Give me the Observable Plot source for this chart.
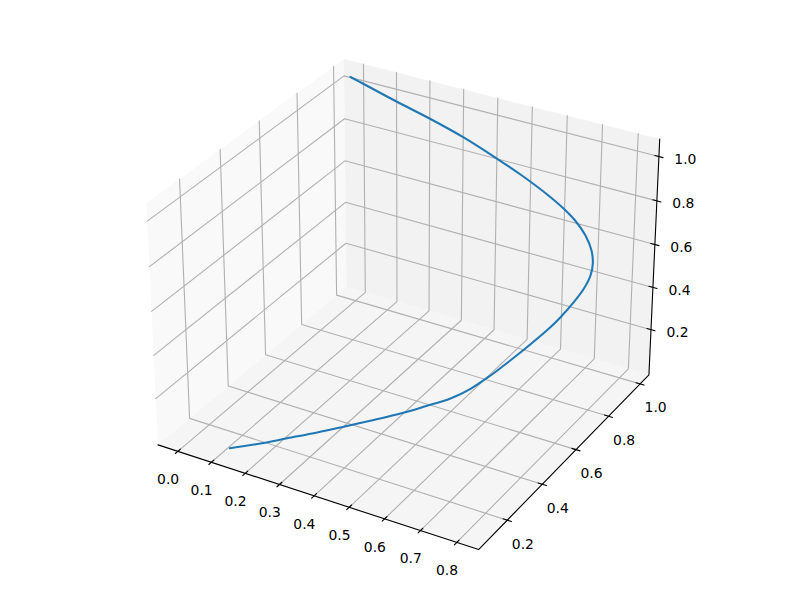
<!DOCTYPE html>
<html><head><meta charset="utf-8">
<script src="https://cdn.jsdelivr.net/npm/d3@7"></script>
<script src="https://cdn.jsdelivr.net/npm/@observablehq/plot@0.6"></script>
<style>html,body{margin:0;background:#fff}</style>
</head><body><div id="c"></div>
<script>
const xTicks=[0,0.1,0.2,0.3,0.4,0.5,0.6,0.7,0.8];
const yTicks=[0.2,0.4,0.6,0.8,1.0];
const zTicks=[0.2,0.4,0.6,0.8,1.0];
const xLim=[-0.0598,0.8597], yLim=[0.0415,1.0577], zLim=[-0.017,1.078];
const curveX=[0.1203,0.1941,0.2566,0.3266,0.3876,0.4557,0.5158,0.5703,0.6242,0.6634,0.6987,0.7209,0.7537,0.7945,0.8098,0.8268,0.8373,0.8399,0.8330,0.8161,0.7853,0.7449,0.7024,0.6450,0.5549,0.4774,0.3644,0.2571,0.1458,0.0331,-0.0084];
const curveY=[0.1013,0.1319,0.1607,0.1928,0.2225,0.2564,0.2871,0.3185,0.3507,0.3837,0.4243,0.4537,0.4993,0.5620,0.5911,0.6312,0.6660,0.6986,0.7259,0.7532,0.7823,0.8081,0.8280,0.8497,0.8784,0.8998,0.9285,0.9505,0.9705,0.9921,0.9999];
const curveZ=[0.0115,0.0469,0.0801,0.1172,0.1516,0.1907,0.2262,0.2625,0.2997,0.3379,0.3848,0.4187,0.4715,0.5439,0.5775,0.6239,0.6640,0.7017,0.7332,0.7649,0.7984,0.8282,0.8512,0.8764,0.9095,0.9342,0.9673,0.9928,1.0159,1.0409,1.0499];
const S=3085,CX=407.5,CY=292;
const B=[1.1905,1.1905,0.8929];
// matplotlib's default 3D camera: elevation 30, azimuth -60, distance 10
function project(x,y,z){
 const X=((x-xLim[0])/(xLim[1]-xLim[0])-0.5)*B[0],Y=((y-yLim[0])/(yLim[1]-yLim[0])-0.5)*B[1],Z=((z-zLim[0])/(zLim[1]-zLim[0])-0.5)*B[2];
 const c=Math.cos,s=Math.sin,e=Math.PI/6,a=-Math.PI/3;
 const w=[c(e)*c(a),c(e)*s(a),s(e)];
 const u=[-s(a),c(a),0];
 const v=[w[1]*u[2]-w[2]*u[1],w[2]*u[0]-w[0]*u[2],w[0]*u[1]-w[1]*u[0]];
 const d=10-(w[0]*X+w[1]*Y+w[2]*Z);
 return [CX+S*(u[0]*X+u[1]*Y)/d, CY-S*(v[0]*X+v[1]*Y+v[2]*Z)/d];
}
const P=(x,y,z,id)=>{const p=project(x,y,z);return{px:p[0],py:p[1],id}};
const [x0,x1]=xLim,[y0,y1]=yLim,[z0,z1]=zLim;
const floor=[[x0,y0,z0],[x1,y0,z0],[x1,y1,z0],[x0,y1,z0]].map(a=>P(...a,0));
const left=[[x0,y0,z0],[x0,y1,z0],[x0,y1,z1],[x0,y0,z1]].map(a=>P(...a,0));
const back=[[x0,y1,z0],[x1,y1,z0],[x1,y1,z1],[x0,y1,z1]].map(a=>P(...a,0));
const grid=[
 ...xTicks.flatMap(t=>[P(t,y0,z0,"x"+t),P(t,y1,z0,"x"+t),P(t,y1,z1,"x"+t)]),
 ...yTicks.flatMap(t=>[P(x1,t,z0,"y"+t),P(x0,t,z0,"y"+t),P(x0,t,z1,"y"+t)]),
 ...zTicks.flatMap(t=>[P(x0,y0,t,"z"+t),P(x0,y1,t,"z"+t),P(x1,y1,t,"z"+t)])];
const axes=[[x0,y0,z0],[x1,y0,z0],[x1,y1,z0],[x1,y1,z1]].map(a=>P(...a,"a"));
const dx=(x1-x0)*.0125,dy=(y1-y0)*.0125;
const ticks=[
 ...xTicks.flatMap(t=>[P(t,y0-dy,z0,"x"+t),P(t,y0+dy,z0,"x"+t)]),
 ...yTicks.flatMap(t=>[P(x1+dx,t,z0,"y"+t),P(x1-dx,t,z0,"y"+t)]),
 ...zTicks.flatMap(t=>[P(x1+dx,y1,t,"z"+t),P(x1-dx,y1,t,"z"+t)])];
const lab=(a,t)=>({...a,t:t.toFixed(1)});
const txt={fontFamily:"DejaVu Sans",fontSize:13.9,fill:"#000"};
const curve=curveX.map((x,i)=>P(x,curveY[i],curveZ[i],"c"));
const fig=Plot.plot({width:800,height:600,margin:0,style:{background:"#fff"},
 x:{domain:[0,800],axis:null},y:{domain:[600,0],axis:null},
 marks:[
 Plot.line(floor,{x:"px",y:"py",fill:"#f5f5f5",stroke:"none"}),
 Plot.line(left,{x:"px",y:"py",fill:"#f9f9f9",stroke:"none"}),
 Plot.line(back,{x:"px",y:"py",fill:"#f2f2f2",stroke:"none"}),
 Plot.line(grid,{x:"px",y:"py",z:"id",stroke:"#b0b0b0",strokeWidth:1.11}),
 Plot.line(axes,{x:"px",y:"py",stroke:"#000",strokeWidth:1.11}),
 Plot.line(ticks,{x:"px",y:"py",z:"id",stroke:"#000",strokeWidth:1.11}),
 Plot.line(curve,{x:"px",y:"py",stroke:"#1f77b4",strokeWidth:2.08,curve:"catmull-rom"}),
 Plot.text(xTicks.map(t=>lab(P(t,y0,z0),t)),{x:"px",y:"py",text:"t",dx:-9.7,dy:28.3,...txt}),
 Plot.text(yTicks.map(t=>lab(P(x1,t,z0),t)),{x:"px",y:"py",text:"t",dx:15.6,dy:24,...txt}),
 Plot.text(zTicks.map(t=>lab(P(x1,y1,t),t)),{x:"px",y:"py",text:"t",dx:26.5,dy:2.7,...txt})
 ]});
document.getElementById("c").append(fig);
</script></body></html>
